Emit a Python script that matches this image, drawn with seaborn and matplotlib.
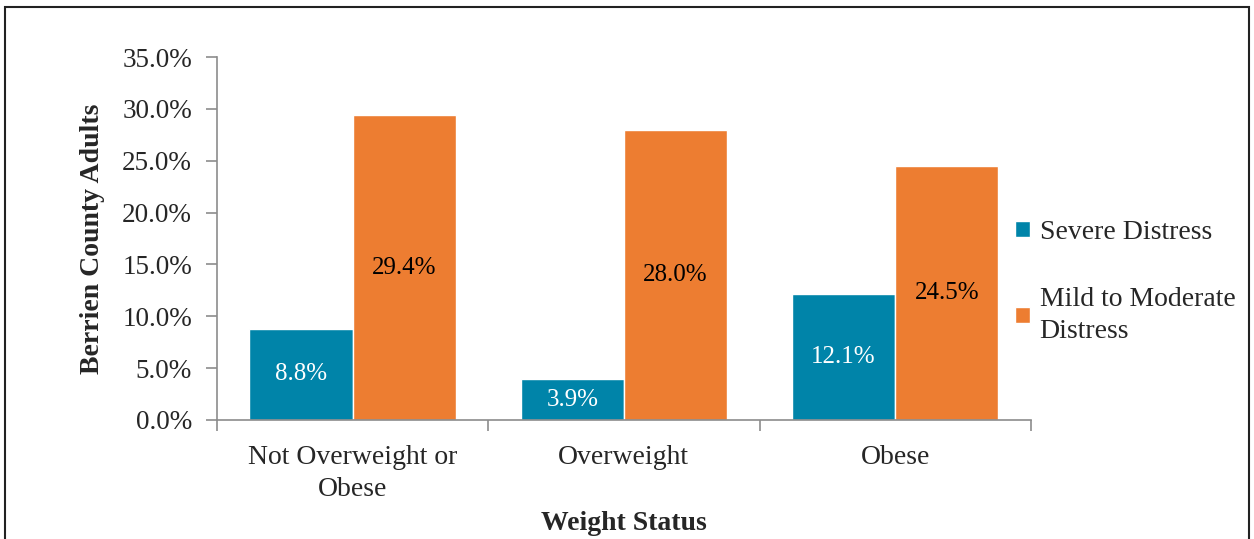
import matplotlib
matplotlib.use("Agg")
import matplotlib.pyplot as plt
import matplotlib.patches as mpatches
from matplotlib.ticker import FuncFormatter, FixedLocator
import seaborn as sns
import pandas as pd

categories = ["Not Overweight or\nObese", "Overweight", "Obese"]
series_names = ["Severe Distress", "Mild to Moderate\nDistress"]
severe = [8.8, 3.9, 12.1]
mild_moderate = [29.4, 28.0, 24.5]
y_ticks = [0, 5, 10, 15, 20, 25, 30, 35]

colors = ["#0084a9", "#ed7d31"]
label_colors = ["white", "black"]

sns.set_theme(style="white")
plt.rcParams["font.family"] = ["Liberation Serif", "DejaVu Serif"]

df = pd.DataFrame({
    "category": categories * 2,
    "series": [series_names[0]] * 3 + [series_names[1]] * 3,
    "value": severe + mild_moderate,
})

fig = plt.figure(figsize=(12.54, 5.39), dpi=100)
ax = fig.add_axes([0.173, 0.221, 0.649, 0.673])

sns.barplot(data=df, x="category", y="value", hue="series",
            palette=colors, width=0.76, ax=ax, saturation=1, legend=True)

ax.set_ylim(0, 35)
ax.set_xlim(-0.5, 2.5)
ax.yaxis.set_major_locator(FixedLocator(y_ticks))
ax.yaxis.set_major_formatter(FuncFormatter(lambda v, p: f"{v:.1f}%"))

# value labels centred in each bar
for container, tc in zip(ax.containers, label_colors):
    labels = [f"{v:.1f}%" for v in container.datavalues]
    ax.bar_label(container, labels=labels, label_type="center",
                 color=tc, fontsize=18)

for side in ["top", "right"]:
    ax.spines[side].set_visible(False)
for side in ["left", "bottom"]:
    ax.spines[side].set_color("#8c8c8c")
    ax.spines[side].set_linewidth(1.2)

ax.tick_params(axis="y", which="major", direction="out", length=8,
               color="#8c8c8c", width=1.2, labelsize=19.5, pad=10, left=True)
ax.set_xticks([0, 1, 2])
ax.set_xticklabels(categories, linespacing=1.4)
ax.set_xticks([-0.5, 0.5, 1.5, 2.5], minor=True)
ax.tick_params(axis="x", which="major", length=0, labelsize=20, pad=18)
ax.tick_params(axis="x", which="minor", direction="out", length=8,
               color="#8c8c8c", width=1.2, bottom=True)

ax.set_xlabel("Weight Status", fontsize=20, fontweight="bold", labelpad=6)
ax.set_ylabel("Berrien County Adults", fontsize=20, fontweight="bold", labelpad=12)

leg = ax.legend(loc="center left", bbox_to_anchor=(0.98, 0.38), frameon=False,
                fontsize=20, handlelength=0.55, handleheight=0.55,
                handletextpad=0.35, labelspacing=1.5, borderaxespad=0,
                borderpad=0, title=None)
for t in leg.get_texts():
    t.set_linespacing(1.4)

# outer frame around the chart area
fig.patches.append(mpatches.Rectangle((0.004, -0.05), 0.992, 1.037,
                                      transform=fig.transFigure,
                                      fill=False, edgecolor="#222222",
                                      linewidth=1.5))

fig.savefig("out.png", dpi=100)
